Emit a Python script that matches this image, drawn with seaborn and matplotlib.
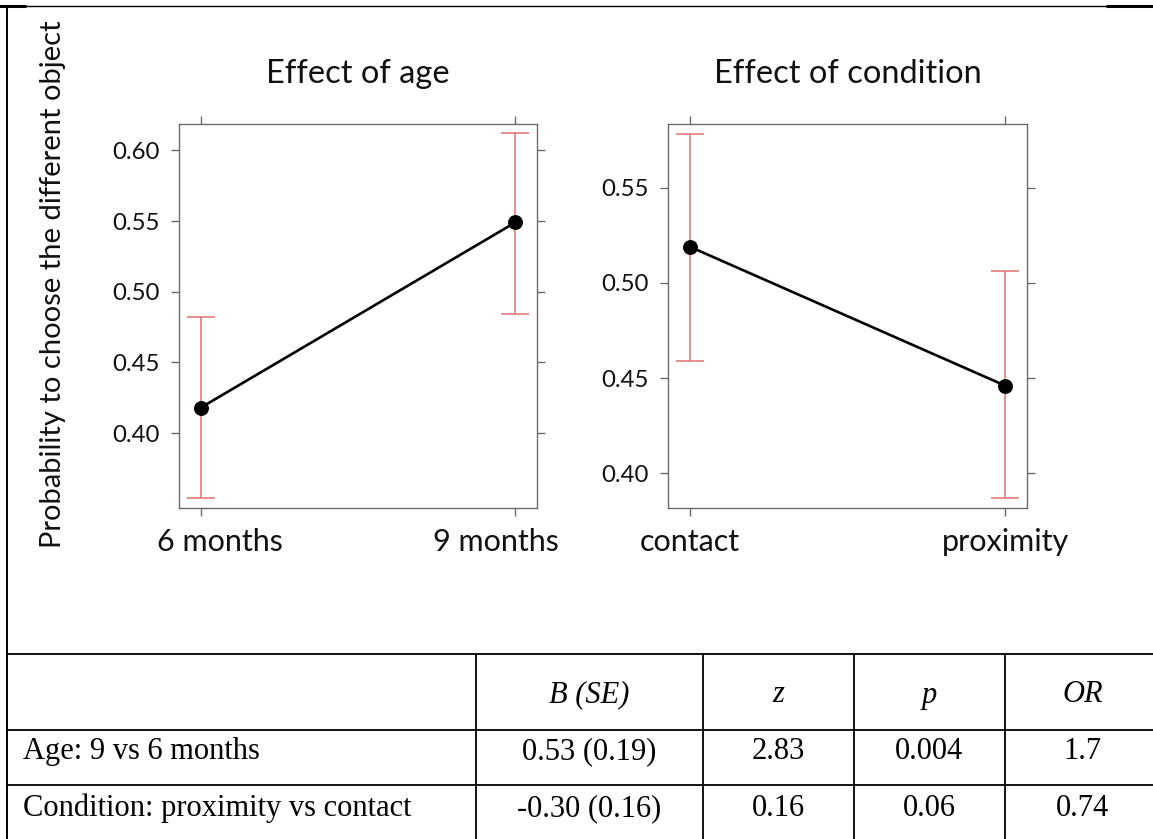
import numpy as np
import pandas as pd
import matplotlib
matplotlib.use("Agg")
import matplotlib.pyplot as plt
import matplotlib.transforms as mtransforms
import seaborn as sns

# ---------------- data ----------------
age_levels = ["6 months", "9 months"]
age_fit = [0.418, 0.549]
age_lower = [0.354, 0.484]
age_upper = [0.482, 0.612]
age_yticks = [0.40, 0.45, 0.50, 0.55, 0.60]

cond_levels = ["contact", "proximity"]
cond_fit = [0.519, 0.446]
cond_lower = [0.459, 0.387]
cond_upper = [0.578, 0.506]
cond_yticks = [0.40, 0.45, 0.50, 0.55]

panel_titles = ["Effect of age", "Effect of condition"]
y_label = "Probability to choose the different object"

table_header = ["", "B (SE)", "z", "p", "OR"]
table_rows = [
    ["Age: 9 vs 6 months", "0.53 (0.19)", "2.83", "0.004", "1.7"],
    ["Condition: proximity vs contact", "-0.30 (0.16)", "0.16", "0.06", "0.74"],
]

# ---------------- style ----------------
sns.set_style("white")
plt.rcParams["font.family"] = ["Lato", "DejaVu Sans"]

W, H = 1153, 839
fig = plt.figure(figsize=(W / 100, H / 100), dpi=100)


def px_rect(x0, y0, x1, y1):
    return [x0 / W, 1 - y1 / H, (x1 - x0) / W, (y1 - y0) / H]


# background frame axes in pixel coordinates (border + table)
frame = fig.add_axes([0, 0, 1, 1], zorder=0)
frame.set_xlim(0, W)
frame.set_ylim(H, 0)
frame.axis("off")

box_color = "#6b6b6b"
err_color = "#e07070"
text_color = "#111111"


def panel(rect, levels, fit, lo, hi, ylim, yticks, title, label_shift=None):
    ax = fig.add_axes(px_rect(*rect), zorder=2)
    fit = np.asarray(fit)
    lo = np.asarray(lo)
    hi = np.asarray(hi)
    df = pd.DataFrame({"level": levels, "fit": fit})
    ax.errorbar(np.arange(len(levels)), fit, yerr=[fit - lo, hi - fit],
                fmt="none", ecolor=err_color, elinewidth=1.1,
                capsize=10, capthick=1.1, zorder=1)
    sns.pointplot(data=df, x="level", y="fit", order=levels, ax=ax,
                  color="black", markers="o", linestyles="-",
                  errorbar=None, markersize=9.3, linewidth=1.9, zorder=3)
    ax.set_xlim(-0.068, 1.07)
    ax.set_ylim(*ylim)
    ax.set_yticks(yticks)
    ax.set_yticklabels([f"{v:.2f}" for v in yticks])
    ax.set_xlabel("")
    ax.set_ylabel("")
    for s in ax.spines.values():
        s.set_visible(True)
        s.set_color(box_color)
        s.set_linewidth(1.0)
    ax.tick_params(axis="both", which="major", direction="out", length=5.5,
                   width=1.0, color=box_color, top=True, right=True,
                   bottom=True, left=True, labeltop=False, labelright=False)
    ax.tick_params(axis="y", labelsize=17.3, pad=9, labelcolor=text_color)
    ax.tick_params(axis="x", labelsize=22, pad=9, labelcolor=text_color)
    ax.set_title(title, fontsize=23.5, pad=30, color=text_color)
    if label_shift is not None:
        for lab, dx in zip(ax.get_xticklabels(), label_shift):
            lab.set_transform(lab.get_transform() +
                              mtransforms.ScaledTranslation(dx / 100, 0, fig.dpi_scale_trans))
    return ax


ax1 = panel((179.3, 124.3, 537.3, 507.7), age_levels, age_fit, age_lower, age_upper,
            (0.3473, 0.6184), age_yticks, panel_titles[0], label_shift=[19, -19])
ax2 = panel((668.3, 124.3, 1027.3, 507.7), cond_levels, cond_fit, cond_lower, cond_upper,
            (0.3819, 0.5833), cond_yticks, panel_titles[1])

fig.text(53 / W, 1 - 284.5 / H, y_label, rotation=90, ha="center", va="center",
         fontsize=21, color=text_color)

# ---------------- outer border ----------------
frame.plot([0, W], [6, 6], color="black", lw=1.0)
frame.plot([0, 25], [6, 6], color="black", lw=2.2)
frame.plot([1107, W], [6, 6], color="black", lw=2.2)
frame.plot([7.3, 7.3], [6, H], color="black", lw=1.4)

# ---------------- table ----------------
row_lines = [654.3, 730, 785.3]
col_lines = [475.7, 703.3, 854, 1004.7]
col_right = 1160.7
for y in row_lines:
    frame.plot([7.3, W], [y, y], color="black", lw=1.3)
for x in col_lines:
    frame.plot([x, x], [row_lines[0], H], color="black", lw=1.3)

col_edges = [7.3] + col_lines + [col_right]
row_centers = [695, 751.7, 808.3]
serif = ["Liberation Serif", "DejaVu Serif"]
tsize = 22
for j, txt in enumerate(table_header):
    if not txt:
        continue
    cx = (col_edges[j] + col_edges[j + 1]) / 2
    frame.text(cx, row_centers[0], txt, ha="center", va="center",
               fontsize=tsize, family=serif, style="italic", color="black")
for i, row in enumerate(table_rows):
    cy = row_centers[i + 1]
    for j, txt in enumerate(row):
        if j == 0:
            frame.text(22.7, cy, txt, ha="left", va="center", fontsize=tsize,
                       family=serif, color="black")
        else:
            cx = (col_edges[j] + col_edges[j + 1]) / 2
            frame.text(cx, cy, txt, ha="center", va="center", fontsize=tsize,
                       family=serif, color="black")

fig.savefig("out.png", dpi=100)
